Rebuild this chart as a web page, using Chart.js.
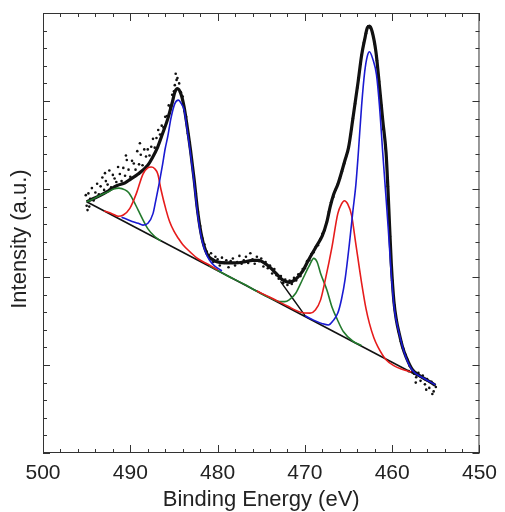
<!DOCTYPE html>
<html lang="en">
<head>
<meta charset="UTF-8" />
<title>Ti 2p XPS</title>
<script src="https://cdn.jsdelivr.net/npm/chart.js"></script>
<style>
  html, body { margin: 0; padding: 0; background: #fff; }
  #wrap { width: 505px; height: 512px; }
</style>
</head>
<body>
<div id="wrap"><canvas id="xpsChart"></canvas></div>
<script>
// tick labels of the binding energy axis
const xTickLabels = [500, 490, 480, 470, 460, 450];

// measured points [binding energy, intensity]
const rawData = [
  [495.1,2.93],[495.0,2.81],[494.9,2.76],[494.8,2.95],[494.7,2.80],[494.6,2.89],[494.4,3.01],[494.2,2.87],[494.0,2.96],[493.8,3.06],[493.6,2.94],[493.4,3.03],[493.2,3.13],[493.0,2.99],[492.9,3.18],[492.8,3.09],[492.6,3.05],[492.4,3.21],[492.2,3.02],[492.0,3.16],[491.8,3.12],[491.6,3.08],[491.4,3.25],[491.2,3.17],[491.0,3.09],[490.8,3.24],[490.6,3.15],[490.5,3.38],[490.4,3.33],[490.2,3.22],[490.0,3.14],[489.8,3.32],[489.6,3.29],[489.4,3.22],[489.2,3.43],[489.0,3.28],[488.9,3.52],[488.8,3.39],[488.6,3.27],[488.4,3.45],[488.2,3.37],[488.0,3.45],[487.8,3.38],[487.6,3.48],[487.4,3.57],[487.2,3.47],[487.0,3.58],[486.8,3.67],[486.6,3.62],[486.4,3.72],[486.2,3.70],[486.0,3.82],[485.8,3.83],[485.6,3.95],[485.4,3.93],[485.2,4.07],[485.0,4.11],[484.9,4.18],[484.8,4.31],[484.7,4.24],[484.6,4.26],[484.4,4.20],[484.2,4.10],[484.0,4.05],[483.8,3.89],[483.6,3.82],[483.4,3.63],[483.2,3.53],[483.0,3.35],
  [482.75,3.17],[482.5,2.95],[482.25,2.74],[482.0,2.58],[481.75,2.44],[481.5,2.37],[481.25,2.29],[481.0,2.25],[480.75,2.27],[480.5,2.17],[480.25,2.23],[480.0,2.20],[479.75,2.13],[479.5,2.22],[479.25,2.16],[479.0,2.19],[478.75,2.11],[478.5,2.18],[478.25,2.21],[478.0,2.13],[477.75,2.17],[477.5,2.24],[477.25,2.15],[477.0,2.19],[476.75,2.23],[476.5,2.16],[476.25,2.27],[476.0,2.20],[475.75,2.15],[475.5,2.23],[475.25,2.18],[475.0,2.21],[474.75,2.12],[474.5,2.17],[474.25,2.10],[474.0,2.13],[473.75,2.04],[473.5,2.09],[473.25,2.02],[473.0,1.98],[472.75,2.01],[472.5,1.93],[472.25,1.97],[472.0,1.91],[471.75,1.96],[471.5,1.92],[471.25,1.99],[471.0,1.96],[470.75,2.03],[470.5,2.01],[470.25,2.09],[470.0,2.10],[469.75,2.18],[469.5,2.19],[469.25,2.26],[469.0,2.28],
  [468.75,2.34],[468.5,2.36],[468.25,2.43],[468.0,2.49],[467.75,2.53],[467.5,2.62],[467.25,2.74],[467.0,2.85],[466.75,2.91],[466.5,2.99],[466.25,3.05],[466.0,3.12],[465.75,3.20],[465.5,3.29],[465.25,3.38],[465.0,3.47],[464.75,3.62],[464.5,3.80],[464.25,3.97],[464.0,4.15],[463.75,4.34],[463.5,4.52],[463.25,4.66],[463.0,4.77],[462.75,4.85],[462.5,4.83],[462.25,4.77],[462.0,4.65],[461.75,4.46],[461.5,4.22],[461.25,3.95],[461.0,3.68],[460.75,3.46],[460.5,3.03],[460.25,2.46],[460.0,1.96],[459.75,1.68],[459.5,1.51],[459.25,1.38],[459.0,1.27],[458.75,1.19],[458.5,1.12],[458.25,1.06],[458.1,0.93],[458.0,0.99],[457.75,0.92],[457.5,0.90],[457.3,0.80],[457.25,0.86],[457.0,0.91],[456.75,0.82],[456.5,0.88],[456.25,0.78],[456.1,0.72],[456.0,0.84],[455.75,0.74],[455.5,0.81],[455.4,0.67],[455.25,0.70],[455.0,0.75]
];

// fitted envelope
const envelope = [[495.0,2.856],[494.0,2.90],[493.0,2.95],[492.5,2.98],[491.5,3.04],[490.6,3.07],[490.0,3.11],[489.1,3.17],[488.0,3.27],[487.5,3.35],[486.85,3.48],[486.3,3.63],[485.7,3.80],[485.2,3.98],[484.9,4.10],[484.6,4.14],[484.2,4.08],[483.85,3.94],[483.47,3.70],[483.1,3.44],[482.7,3.12],[482.3,2.76],[481.8,2.45],[481.2,2.26],[480.6,2.20],[480.0,2.17],[479.0,2.16],[478.0,2.16],[477.0,2.17],[476.0,2.19],[475.3,2.19],[474.8,2.17],[474.0,2.11],[473.3,2.04],[472.6,1.97],[471.8,1.94],[471.0,1.98],[470.3,2.06],[469.6,2.19],[468.8,2.33],[468.0,2.47],[467.5,2.62],[467.1,2.80],[466.7,2.94],[466.2,3.06],[465.4,3.33],[465.0,3.47],[464.5,3.80],[463.9,4.22],[463.5,4.52],[463.15,4.70],[462.85,4.83],[462.6,4.85],[462.3,4.79],[461.85,4.55],[461.45,4.16],[461.08,3.78],[460.7,3.41],[460.5,3.03],[460.3,2.58],[460.1,2.15],[459.8,1.72],[459.5,1.50],[459.2,1.36],[458.8,1.20],[458.4,1.09],[457.7,0.95],[457.0,0.89],[456.4,0.85],[455.7,0.81],[455.05,0.77]];

// background and the short joining line
const background = [[495.0,2.856],[455.0,0.77]];
const joinLine = [[472.8,1.95],[469.9,1.55]];

// 2p1/2 side components
const green12 = [[495.0,2.856],[494.6,2.87],[493.6,2.92],[492.5,2.97],[491.9,3.00],[491.3,3.01],[490.6,2.99],[490.2,2.96],[489.7,2.88],[489.1,2.76],[488.55,2.65],[488.0,2.55],[487.2,2.46],[486.5,2.41]];
const red12 = [[493.0,2.75],[492.1,2.72],[491.4,2.69],[490.8,2.705],[490.05,2.78],[489.3,2.95],[488.55,3.17],[488.0,3.24],[487.6,3.25],[487.2,3.23],[486.85,3.17],[486.5,3.00],[485.9,2.76],[485.5,2.63],[485.0,2.52],[484.5,2.44],[484.0,2.37],[483.1,2.28],[482.3,2.21],[481.0,2.14],[480.0,2.08]];
const blue12 = [[491.0,2.68],[490.0,2.64],[489.1,2.61],[488.55,2.59],[487.98,2.61],[487.4,2.72],[487.1,2.86],[486.66,3.08],[486.3,3.28],[486.0,3.46],[485.7,3.60],[485.35,3.80],[484.9,3.97],[484.5,4.01],[484.1,3.96],[483.84,3.90],[483.47,3.66],[483.1,3.40],[482.7,3.08],[482.3,2.72],[481.8,2.42],[481.2,2.24],[480.6,2.15],[480.0,2.10],[479.5,2.07]];

// 2p3/2 side components
const green32 = [[481.0,2.13],[479.0,2.02],[477.0,1.92],[475.0,1.81],[473.5,1.74],[472.9,1.72],[472.3,1.72],[471.8,1.74],[471.05,1.815],[470.3,1.966],[469.55,2.117],[468.98,2.212],[468.6,2.17],[468.2,2.04],[467.47,1.85],[466.9,1.66],[466.3,1.52],[465.6,1.38],[464.5,1.27],[463.5,1.22]];
const red32 = [[475.5,1.84],[474.0,1.77],[472.0,1.67],[470.5,1.60],[469.4,1.59],[468.8,1.625],[468.2,1.74],[467.66,1.97],[466.9,2.34],[466.23,2.72],[465.8,2.83],[465.48,2.867],[465.1,2.83],[464.65,2.70],[464.2,2.40],[463.5,1.93],[463.0,1.64],[462.6,1.47],[462.1,1.31],[461.65,1.21],[460.7,1.06],[459.77,0.99],[458.8,0.95],[457.8,0.92]];
const blue32 = [[470.0,1.56],[469.0,1.51],[468.0,1.47],[467.3,1.455],[466.8,1.50],[466.23,1.59],[465.8,1.75],[465.4,1.97],[464.9,2.38],[464.5,2.75],[464.16,3.05],[463.9,3.38],[463.5,3.95],[463.15,4.33],[462.85,4.51],[462.6,4.56],[462.2,4.47],[461.8,4.30],[461.46,3.95],[461.08,3.41],[460.8,3.03],[460.45,2.55],[460.14,2.08],[459.77,1.65],[459.2,1.36],[458.44,1.09],[457.7,0.94],[456.38,0.85],[455.05,0.775]];

const toXY = arr => arr.map(([x, y]) => ({ x: x, y: y }));
const FONT = "'Liberation Sans', Arial, sans-serif";

function curve(data, color, width, order) {
    return {
        data: toXY(data),
        showLine: true,
        borderColor: color,
        borderWidth: width,
        pointRadius: 0,
        cubicInterpolationMode: 'monotone',
        fill: false,
        order: order
    };
}

// frame plus inward ticks on all four sides
const frameTicks = {
    id: 'frameTicks',
    afterDraw(chart) {
        const { ctx, chartArea: a, scales: { x, y } } = chart;
        ctx.save();
        ctx.strokeStyle = '#333';
        ctx.lineWidth = 1;
        ctx.strokeRect(a.left + 0.5, a.top + 0.5, a.right - a.left - 1, a.bottom - a.top - 1);
        ctx.beginPath();
        for (let v = x.min; v <= x.max + 1e-6; v += 2) {
            const px = Math.round(x.getPixelForValue(v)) + 0.5;
            const len = (Math.round(v) % 10 === 0) ? 8 : 4;
            ctx.moveTo(px, a.bottom); ctx.lineTo(px, a.bottom - len);
            ctx.moveTo(px, a.top); ctx.lineTo(px, a.top + len);
        }
        for (let i = 0; i <= 25; i++) {
            const v = y.min + i * 0.2;
            const py = Math.round(y.getPixelForValue(v)) + 0.5;
            const len = (i % 5 === 0) ? 7 : 4;
            ctx.moveTo(a.left, py); ctx.lineTo(a.left + len, py);
            ctx.moveTo(a.right, py); ctx.lineTo(a.right - len, py);
        }
        ctx.stroke();
        ctx.restore();
    }
};

new Chart(document.getElementById('xpsChart').getContext('2d'), {
    type: 'scatter',
    data: {
        datasets: [
            curve(blue32, '#1a1ad2', 1.6, 1),
            curve(blue12, '#1a1ad2', 1.6, 1),
            curve(red32, '#e61c1c', 1.6, 2),
            curve(red12, '#e61c1c', 1.6, 2),
            curve(green32, '#237a2d', 1.6, 3),
            curve(green12, '#237a2d', 1.6, 3),
            curve(joinLine, '#111', 1.4, 4),
            curve(background, '#111', 1.6, 5),
            curve(envelope, '#111', 3.2, 6),
            {
                data: toXY(rawData),
                showLine: false,
                pointRadius: 1.3,
                pointBorderWidth: 0,
                pointBackgroundColor: '#111',
                order: 7
            }
        ]
    },
    options: {
        responsive: true,
        maintainAspectRatio: false,
        animation: false,
        layout: { padding: { top: 13, right: 18, left: 0, bottom: 0 } },
        plugins: { legend: { display: false }, tooltip: { enabled: false } },
        scales: {
            x: {
                type: 'linear',
                reverse: true,
                min: 450,
                max: 500,
                afterBuildTicks: s => { s.ticks = xTickLabels.map(v => ({ value: v })); },
                afterFit: s => { s.height = 59; },
                grid: { display: false, drawTicks: false, tickLength: 0 },
                border: { display: false },
                ticks: { padding: 8, color: '#222', font: { family: FONT, size: 21 } },
                title: {
                    display: true,
                    text: 'Binding Energy (eV)',
                    color: '#222',
                    font: { family: FONT, size: 22 },
                    padding: { top: 0, bottom: -1 }
                }
            },
            y: {
                type: 'linear',
                min: 0,
                max: 5,
                afterFit: s => { s.width = 43; },
                grid: { display: false, drawTicks: false, tickLength: 0 },
                border: { display: false },
                ticks: { display: false },
                title: {
                    display: true,
                    text: 'Intensity (a.u.)  ',
                    color: '#222',
                    font: { family: FONT, size: 22 },
                    padding: { top: 7, bottom: 0 }
                }
            }
        }
    },
    plugins: [frameTicks]
});
</script>
</body>
</html>
